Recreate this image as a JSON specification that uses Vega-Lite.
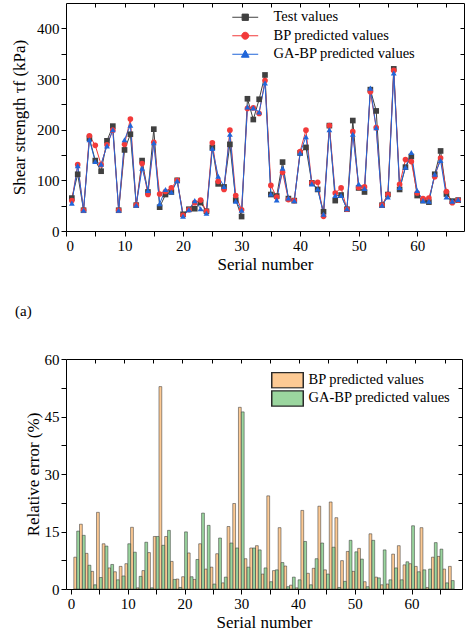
{
  "$schema": "https://vega.github.io/schema/vega-lite/v6.json",
  "padding": {"left": 10, "top": 2, "right": 2, "bottom": 0},
  "background": "white",
  "datasets": {
    "shear": [
      {"n":1,"s":"Test values","v":65},{"n":2,"s":"Test values","v":112},{"n":3,"s":"Test values","v":41},{"n":4,"s":"Test values","v":183},{"n":5,"s":"Test values","v":139},
      {"n":6,"s":"Test values","v":118},{"n":7,"s":"Test values","v":178},{"n":8,"s":"Test values","v":207},{"n":9,"s":"Test values","v":41},{"n":10,"s":"Test values","v":160},
      {"n":11,"s":"Test values","v":191},{"n":12,"s":"Test values","v":51},{"n":13,"s":"Test values","v":139},{"n":14,"s":"Test values","v":77},{"n":15,"s":"Test values","v":201},
      {"n":16,"s":"Test values","v":47},{"n":17,"s":"Test values","v":72},{"n":18,"s":"Test values","v":77},{"n":19,"s":"Test values","v":100},{"n":20,"s":"Test values","v":33},
      {"n":21,"s":"Test values","v":43},{"n":22,"s":"Test values","v":44},{"n":23,"s":"Test values","v":56},{"n":24,"s":"Test values","v":39},{"n":25,"s":"Test values","v":165},
      {"n":26,"s":"Test values","v":93},{"n":27,"s":"Test values","v":87},{"n":28,"s":"Test values","v":171},{"n":29,"s":"Test values","v":61},{"n":30,"s":"Test values","v":28.5},
      {"n":31,"s":"Test values","v":261},{"n":32,"s":"Test values","v":220},{"n":33,"s":"Test values","v":260},{"n":34,"s":"Test values","v":308},{"n":35,"s":"Test values","v":72},
      {"n":36,"s":"Test values","v":69},{"n":37,"s":"Test values","v":136},{"n":38,"s":"Test values","v":64},{"n":39,"s":"Test values","v":60},{"n":40,"s":"Test values","v":154},
      {"n":41,"s":"Test values","v":165},{"n":42,"s":"Test values","v":95},{"n":43,"s":"Test values","v":82},{"n":44,"s":"Test values","v":38},{"n":45,"s":"Test values","v":208},
      {"n":46,"s":"Test values","v":60},{"n":47,"s":"Test values","v":71},{"n":48,"s":"Test values","v":43},{"n":49,"s":"Test values","v":218},{"n":50,"s":"Test values","v":85},
      {"n":51,"s":"Test values","v":77},{"n":52,"s":"Test values","v":279},{"n":53,"s":"Test values","v":237},{"n":54,"s":"Test values","v":51},{"n":55,"s":"Test values","v":72},
      {"n":56,"s":"Test values","v":320},{"n":57,"s":"Test values","v":82},{"n":58,"s":"Test values","v":126},{"n":59,"s":"Test values","v":147},{"n":60,"s":"Test values","v":70},
      {"n":61,"s":"Test values","v":60},{"n":62,"s":"Test values","v":57},{"n":63,"s":"Test values","v":112},{"n":64,"s":"Test values","v":158},{"n":65,"s":"Test values","v":73},
      {"n":66,"s":"Test values","v":59},{"n":67,"s":"Test values","v":61},

      {"n":1,"s":"BP predicted values","v":60},{"n":2,"s":"BP predicted values","v":131},{"n":3,"s":"BP predicted values","v":41},{"n":4,"s":"BP predicted values","v":188},{"n":5,"s":"BP predicted values","v":169},
      {"n":6,"s":"BP predicted values","v":131},{"n":7,"s":"BP predicted values","v":170},{"n":8,"s":"BP predicted values","v":199},{"n":9,"s":"BP predicted values","v":41},{"n":10,"s":"BP predicted values","v":171},
      {"n":11,"s":"BP predicted values","v":221},{"n":12,"s":"BP predicted values","v":51},{"n":13,"s":"BP predicted values","v":133},{"n":14,"s":"BP predicted values","v":72},{"n":15,"s":"BP predicted values","v":175},
      {"n":16,"s":"BP predicted values","v":73},{"n":17,"s":"BP predicted values","v":78},{"n":18,"s":"BP predicted values","v":85},{"n":19,"s":"BP predicted values","v":100},{"n":20,"s":"BP predicted values","v":31},
      {"n":21,"s":"BP predicted values","v":42},{"n":22,"s":"BP predicted values","v":56},{"n":23,"s":"BP predicted values","v":61},{"n":24,"s":"BP predicted values","v":39},{"n":25,"s":"BP predicted values","v":174},
      {"n":26,"s":"BP predicted values","v":98},{"n":27,"s":"BP predicted values","v":82},{"n":28,"s":"BP predicted values","v":199},{"n":29,"s":"BP predicted values","v":70},{"n":30,"s":"BP predicted values","v":42},
      {"n":31,"s":"BP predicted values","v":242},{"n":32,"s":"BP predicted values","v":243},{"n":33,"s":"BP predicted values","v":232},{"n":34,"s":"BP predicted values","v":297},{"n":35,"s":"BP predicted values","v":90},
      {"n":36,"s":"BP predicted values","v":67},{"n":37,"s":"BP predicted values","v":116},{"n":38,"s":"BP predicted values","v":62},{"n":39,"s":"BP predicted values","v":60},{"n":40,"s":"BP predicted values","v":157},
      {"n":41,"s":"BP predicted values","v":199},{"n":42,"s":"BP predicted values","v":95},{"n":43,"s":"BP predicted values","v":96},{"n":44,"s":"BP predicted values","v":29},{"n":45,"s":"BP predicted values","v":208},
      {"n":46,"s":"BP predicted values","v":75},{"n":47,"s":"BP predicted values","v":85},{"n":48,"s":"BP predicted values","v":43},{"n":49,"s":"BP predicted values","v":196},{"n":50,"s":"BP predicted values","v":86},
      {"n":51,"s":"BP predicted values","v":87},{"n":52,"s":"BP predicted values","v":275},{"n":53,"s":"BP predicted values","v":204},{"n":54,"s":"BP predicted values","v":51},{"n":55,"s":"BP predicted values","v":72},
      {"n":56,"s":"BP predicted values","v":317},{"n":57,"s":"BP predicted values","v":92},{"n":58,"s":"BP predicted values","v":141},{"n":59,"s":"BP predicted values","v":137},{"n":60,"s":"BP predicted values","v":75},
      {"n":61,"s":"BP predicted values","v":64},{"n":62,"s":"BP predicted values","v":65},{"n":63,"s":"BP predicted values","v":107},{"n":64,"s":"BP predicted values","v":144},{"n":65,"s":"BP predicted values","v":78},
      {"n":66,"s":"BP predicted values","v":56},{"n":67,"s":"BP predicted values","v":61},

      {"n":1,"s":"GA-BP predicted values","v":55},{"n":2,"s":"GA-BP predicted values","v":129},{"n":3,"s":"GA-BP predicted values","v":41},{"n":4,"s":"GA-BP predicted values","v":180},{"n":5,"s":"GA-BP predicted values","v":137},
      {"n":6,"s":"GA-BP predicted values","v":132},{"n":7,"s":"GA-BP predicted values","v":168},{"n":8,"s":"GA-BP predicted values","v":200},{"n":9,"s":"GA-BP predicted values","v":41},{"n":10,"s":"GA-BP predicted values","v":180},
      {"n":11,"s":"GA-BP predicted values","v":209},{"n":12,"s":"GA-BP predicted values","v":51},{"n":13,"s":"GA-BP predicted values","v":124},{"n":14,"s":"GA-BP predicted values","v":80},{"n":15,"s":"GA-BP predicted values","v":174},
      {"n":16,"s":"GA-BP predicted values","v":54},{"n":17,"s":"GA-BP predicted values","v":82},{"n":18,"s":"GA-BP predicted values","v":77},{"n":19,"s":"GA-BP predicted values","v":99},{"n":20,"s":"GA-BP predicted values","v":29},
      {"n":21,"s":"GA-BP predicted values","v":42},{"n":22,"s":"GA-BP predicted values","v":60},{"n":23,"s":"GA-BP predicted values","v":44},{"n":24,"s":"GA-BP predicted values","v":35},{"n":25,"s":"GA-BP predicted values","v":163},
      {"n":26,"s":"GA-BP predicted values","v":108},{"n":27,"s":"GA-BP predicted values","v":88},{"n":28,"s":"GA-BP predicted values","v":191},{"n":29,"s":"GA-BP predicted values","v":59},{"n":30,"s":"GA-BP predicted values","v":41},
      {"n":31,"s":"GA-BP predicted values","v":245},{"n":32,"s":"GA-BP predicted values","v":243},{"n":33,"s":"GA-BP predicted values","v":235},{"n":34,"s":"GA-BP predicted values","v":292},{"n":35,"s":"GA-BP predicted values","v":73},
      {"n":36,"s":"GA-BP predicted values","v":61},{"n":37,"s":"GA-BP predicted values","v":124},{"n":38,"s":"GA-BP predicted values","v":65},{"n":39,"s":"GA-BP predicted values","v":60},{"n":40,"s":"GA-BP predicted values","v":154},
      {"n":41,"s":"GA-BP predicted values","v":186},{"n":42,"s":"GA-BP predicted values","v":93},{"n":43,"s":"GA-BP predicted values","v":83},{"n":44,"s":"GA-BP predicted values","v":33},{"n":45,"s":"GA-BP predicted values","v":200},
      {"n":46,"s":"GA-BP predicted values","v":70},{"n":47,"s":"GA-BP predicted values","v":70},{"n":48,"s":"GA-BP predicted values","v":44},{"n":49,"s":"GA-BP predicted values","v":191},{"n":50,"s":"GA-BP predicted values","v":93},
      {"n":51,"s":"GA-BP predicted values","v":84},{"n":52,"s":"GA-BP predicted values","v":282},{"n":53,"s":"GA-BP predicted values","v":204},{"n":54,"s":"GA-BP predicted values","v":51},{"n":55,"s":"GA-BP predicted values","v":67},
      {"n":56,"s":"GA-BP predicted values","v":312},{"n":57,"s":"GA-BP predicted values","v":86},{"n":58,"s":"GA-BP predicted values","v":126},{"n":59,"s":"GA-BP predicted values","v":155},{"n":60,"s":"GA-BP predicted values","v":80},
      {"n":61,"s":"GA-BP predicted values","v":60},{"n":62,"s":"GA-BP predicted values","v":59},{"n":63,"s":"GA-BP predicted values","v":112},{"n":64,"s":"GA-BP predicted values","v":139},{"n":65,"s":"GA-BP predicted values","v":67},
      {"n":66,"s":"GA-BP predicted values","v":59},{"n":67,"s":"GA-BP predicted values","v":62}
    ],
    "errors": [
      {"n":1,"m":"BP predicted values","e":8.3},{"n":2,"m":"BP predicted values","e":16.9},{"n":3,"m":"BP predicted values","e":9.3},{"n":4,"m":"BP predicted values","e":4.6},{"n":5,"m":"BP predicted values","e":20.0},
      {"n":6,"m":"BP predicted values","e":11.8},{"n":7,"m":"BP predicted values","e":5.5},{"n":8,"m":"BP predicted values","e":4.5},{"n":9,"m":"BP predicted values","e":5.9},{"n":10,"m":"BP predicted values","e":6.6},
      {"n":11,"m":"BP predicted values","e":16.1},{"n":12,"m":"BP predicted values","e":0.3},{"n":13,"m":"BP predicted values","e":4.8},{"n":14,"m":"BP predicted values","e":9.5},{"n":15,"m":"BP predicted values","e":13.7},
      {"n":16,"m":"BP predicted values","e":52.8},{"n":17,"m":"BP predicted values","e":13.7},{"n":18,"m":"BP predicted values","e":7.2},{"n":19,"m":"BP predicted values","e":2.6},{"n":20,"m":"BP predicted values","e":3.2},
      {"n":21,"m":"BP predicted values","e":9.4},{"n":22,"m":"BP predicted values","e":2.5},{"n":23,"m":"BP predicted values","e":11.8},{"n":24,"m":"BP predicted values","e":5.2},{"n":25,"m":"BP predicted values","e":5.7},
      {"n":26,"m":"BP predicted values","e":9.2},{"n":27,"m":"BP predicted values","e":1.6},{"n":28,"m":"BP predicted values","e":16.3},{"n":29,"m":"BP predicted values","e":22.3},{"n":30,"m":"BP predicted values","e":47.4},
      {"n":31,"m":"BP predicted values","e":7.9},{"n":32,"m":"BP predicted values","e":10.7},{"n":33,"m":"BP predicted values","e":11.3},{"n":34,"m":"BP predicted values","e":3.9},{"n":35,"m":"BP predicted values","e":24.3},
      {"n":36,"m":"BP predicted values","e":4.8},{"n":37,"m":"BP predicted values","e":16.0},{"n":38,"m":"BP predicted values","e":6.0},{"n":39,"m":"BP predicted values","e":1.0},{"n":40,"m":"BP predicted values","e":0.3},
      {"n":41,"m":"BP predicted values","e":20.5},{"n":42,"m":"BP predicted values","e":4.1},{"n":43,"m":"BP predicted values","e":5.4},{"n":44,"m":"BP predicted values","e":21.6},{"n":45,"m":"BP predicted values","e":5.0},
      {"n":46,"m":"BP predicted values","e":22.7},{"n":47,"m":"BP predicted values","e":18.6},{"n":48,"m":"BP predicted values","e":7.4},{"n":49,"m":"BP predicted values","e":9.8},{"n":50,"m":"BP predicted values","e":4.6},
      {"n":51,"m":"BP predicted values","e":10.6},{"n":52,"m":"BP predicted values","e":1.9},{"n":53,"m":"BP predicted values","e":14.4},{"n":54,"m":"BP predicted values","e":3.1},{"n":55,"m":"BP predicted values","e":1.1},
      {"n":56,"m":"BP predicted values","e":1.3},{"n":57,"m":"BP predicted values","e":9.1},{"n":58,"m":"BP predicted values","e":11.3},{"n":59,"m":"BP predicted values","e":6.3},{"n":60,"m":"BP predicted values","e":6.6},
      {"n":61,"m":"BP predicted values","e":5.9},{"n":62,"m":"BP predicted values","e":16.0},{"n":63,"m":"BP predicted values","e":0.4},{"n":64,"m":"BP predicted values","e":8.3},{"n":65,"m":"BP predicted values","e":8.5},
      {"n":66,"m":"BP predicted values","e":5.2},{"n":67,"m":"BP predicted values","e":5.9},

      {"n":1,"m":"GA-BP predicted values","e":15.1},{"n":2,"m":"GA-BP predicted values","e":14.0},{"n":3,"m":"GA-BP predicted values","e":6.2},{"n":4,"m":"GA-BP predicted values","e":1.1},{"n":5,"m":"GA-BP predicted values","e":3.0},
      {"n":6,"m":"GA-BP predicted values","e":11.2},{"n":7,"m":"GA-BP predicted values","e":6.4},{"n":8,"m":"GA-BP predicted values","e":2.4},{"n":9,"m":"GA-BP predicted values","e":3.4},{"n":10,"m":"GA-BP predicted values","e":11.8},
      {"n":11,"m":"GA-BP predicted values","e":9.6},{"n":12,"m":"GA-BP predicted values","e":3.3},{"n":13,"m":"GA-BP predicted values","e":12.2},{"n":14,"m":"GA-BP predicted values","e":0.3},{"n":15,"m":"GA-BP predicted values","e":13.7},
      {"n":16,"m":"GA-BP predicted values","e":11.4},{"n":17,"m":"GA-BP predicted values","e":15.3},{"n":18,"m":"GA-BP predicted values","e":2.5},{"n":19,"m":"GA-BP predicted values","e":0.4},{"n":20,"m":"GA-BP predicted values","e":14.9},
      {"n":21,"m":"GA-BP predicted values","e":3.2},{"n":22,"m":"GA-BP predicted values","e":7.7},{"n":23,"m":"GA-BP predicted values","e":19.8},{"n":24,"m":"GA-BP predicted values","e":16.6},{"n":25,"m":"GA-BP predicted values","e":1.3},
      {"n":26,"m":"GA-BP predicted values","e":13.3},{"n":27,"m":"GA-BP predicted values","e":3.1},{"n":28,"m":"GA-BP predicted values","e":12.0},{"n":29,"m":"GA-BP predicted values","e":10.7},{"n":30,"m":"GA-BP predicted values","e":46.2},
      {"n":31,"m":"GA-BP predicted values","e":5.7},{"n":32,"m":"GA-BP predicted values","e":10.7},{"n":33,"m":"GA-BP predicted values","e":10.2},{"n":34,"m":"GA-BP predicted values","e":5.5},{"n":35,"m":"GA-BP predicted values","e":1.9},
      {"n":36,"m":"GA-BP predicted values","e":5.0},{"n":37,"m":"GA-BP predicted values","e":6.9},{"n":38,"m":"GA-BP predicted values","e":0.6},{"n":39,"m":"GA-BP predicted values","e":3.1},{"n":40,"m":"GA-BP predicted values","e":2.4},
      {"n":41,"m":"GA-BP predicted values","e":12.4},{"n":42,"m":"GA-BP predicted values","e":1.1},{"n":43,"m":"GA-BP predicted values","e":7.9},{"n":44,"m":"GA-BP predicted values","e":12.0},{"n":45,"m":"GA-BP predicted values","e":3.9},
      {"n":46,"m":"GA-BP predicted values","e":10.9},{"n":47,"m":"GA-BP predicted values","e":0.4},{"n":48,"m":"GA-BP predicted values","e":2.0},{"n":49,"m":"GA-BP predicted values","e":12.7},{"n":50,"m":"GA-BP predicted values","e":9.7},
      {"n":51,"m":"GA-BP predicted values","e":7.8},{"n":52,"m":"GA-BP predicted values","e":0.6},{"n":53,"m":"GA-BP predicted values","e":12.7},{"n":54,"m":"GA-BP predicted values","e":2.9},{"n":55,"m":"GA-BP predicted values","e":10.2},
      {"n":56,"m":"GA-BP predicted values","e":2.4},{"n":57,"m":"GA-BP predicted values","e":5.5},{"n":58,"m":"GA-BP predicted values","e":2.4},{"n":59,"m":"GA-BP predicted values","e":7.1},{"n":60,"m":"GA-BP predicted values","e":16.5},
      {"n":61,"m":"GA-BP predicted values","e":4.5},{"n":62,"m":"GA-BP predicted values","e":5.0},{"n":63,"m":"GA-BP predicted values","e":5.2},{"n":64,"m":"GA-BP predicted values","e":12.1},{"n":65,"m":"GA-BP predicted values","e":10.4},
      {"n":66,"m":"GA-BP predicted values","e":1.6},{"n":67,"m":"GA-BP predicted values","e":2.2}
    ]
  },
  "spacing": 30,
  "resolve": {
    "scale": {"color": "independent", "fill": "independent"},
    "legend": {"color": "independent", "fill": "independent"}
  },
  "vconcat": [
    {
      "width": 398,
      "height": 228,
      "data": {"name": "shear"},
      "layer": [
        {
          "mark": {"type": "line", "strokeWidth": 1},
          "encoding": {
            "x": {"field": "n", "type": "quantitative", "scale": {"domain": [0, 68], "nice": false},
                  "axis": {"values": [0,5,10,15,20,25,30,35,40,45,50,55,60,65], "labelExpr": "datum.value % 10 === 0 ? datum.label : ''", "title": "Serial number", "titlePadding": 3}},
            "y": {"field": "v", "type": "quantitative", "scale": {"domain": [0, 450], "nice": false},
                  "axis": {"values": [0,50,100,150,200,250,300,350,400], "labelExpr": "datum.value % 100 === 0 ? datum.label : ''", "title": "Shear strength τf (kPa)", "titlePadding": 8}},
            "color": {"field": "s", "type": "nominal",
                      "scale": {"domain": ["Test values", "BP predicted values", "GA-BP predicted values"], "range": ["#404040", "#f23a3a", "#2166d9"]},
                      "legend": {
                        "title": null, "orient": "none", "legendX": 172, "legendY": 7, "padding": 0,
                        "symbolSize": 49, "labelOffset": 21, "rowPadding": 3.5,
                        "labelFont": "Liberation Serif", "labelFontSize": 14.5, "labelColor": "#000",
                        "symbolStrokeWidth": 1,
                        "encode": {"symbols": {"update": {
                          "shape": {"signal": "datum.value === 'Test values' ? 'M-3.7,0H3.7M-0.9,-0.9H0.9V0.9H-0.9Z' : datum.value === 'BP predicted values' ? 'M-3.7,0H3.7M-1,0A1,1 0 1,0 1,0A1,1 0 1,0 -1,0Z' : 'M-3.7,0H3.7M0,-1.15L1.1,0.85H-1.1Z'"},
                          "stroke": {"signal": "datum.value === 'Test values' ? '#404040' : datum.value === 'BP predicted values' ? '#f23a3a' : '#2166d9'"},
                          "fill": {"signal": "datum.value === 'Test values' ? '#404040' : datum.value === 'BP predicted values' ? '#f23a3a' : '#2166d9'"},
                          "strokeWidth": {"value": 1},
                          "opacity": {"value": 1}
                        }}}
                      }}
          }
        },
        {
          "transform": [{"filter": "datum.s === 'Test values'"}],
          "mark": {"type": "point", "shape": "square", "filled": true, "size": 32, "opacity": 1},
          "encoding": {
            "x": {"field": "n", "type": "quantitative", "scale": {"domain": [0, 68], "nice": false}, "axis": null},
            "y": {"field": "v", "type": "quantitative", "scale": {"domain": [0, 450], "nice": false}, "axis": null},
            "color": {"field": "s", "type": "nominal"}
          }
        },
        {
          "transform": [{"filter": "datum.s === 'BP predicted values'"}],
          "mark": {"type": "point", "shape": "circle", "filled": true, "size": 32, "opacity": 1},
          "encoding": {
            "x": {"field": "n", "type": "quantitative", "scale": {"domain": [0, 68], "nice": false}, "axis": null},
            "y": {"field": "v", "type": "quantitative", "scale": {"domain": [0, 450], "nice": false}, "axis": null},
            "color": {"field": "s", "type": "nominal"}
          }
        },
        {
          "transform": [{"filter": "datum.s === 'GA-BP predicted values'"}],
          "mark": {"type": "point", "shape": "triangle-up", "filled": true, "size": 34, "opacity": 1},
          "encoding": {
            "x": {"field": "n", "type": "quantitative", "scale": {"domain": [0, 68], "nice": false}, "axis": null},
            "y": {"field": "v", "type": "quantitative", "scale": {"domain": [0, 450], "nice": false}, "axis": null},
            "color": {"field": "s", "type": "nominal"}
          }
        },
        {
          "mark": {"type": "point", "opacity": 0},
          "encoding": {
            "x": {"field": "n", "type": "quantitative", "scale": {"domain": [0, 68], "nice": false},
                  "axis": {"orient": "top", "values": [5,10,15,20,25,30,35,40,45,50,55,60,65], "labels": false, "title": null, "tickSize": -4}},
            "y": {"field": "v", "type": "quantitative", "scale": {"domain": [0, 450], "nice": false},
                  "axis": {"orient": "right", "values": [50,100,150,200,250,300,350,400], "labels": false, "title": null, "tickSize": -4}}
          }
        }
      ],
      "resolve": {"scale": {"x": "independent", "y": "independent"}}
    },
    {
      "width": 396,
      "height": 230,
      "data": {"name": "errors"},
      "title": {"text": "(a)", "anchor": "start", "frame": "group", "dx": -51, "offset": 33, "fontSize": 15, "font": "Liberation Serif", "fontWeight": "normal", "color": "#000"},
      "layer": [
        {
          "transform": [{"filter": "datum.m === 'BP predicted values'"}],
          "mark": {"type": "bar", "width": 2.8, "xOffset": -1.45, "stroke": "#2a2a2a", "strokeWidth": 0.5, "opacity": 1},
          "encoding": {
            "x": {"field": "n", "type": "quantitative", "scale": {"domain": [0, 68], "nice": false},
                  "axis": {"values": [0,5,10,15,20,25,30,35,40,45,50,55,60,65], "labelExpr": "datum.value % 10 === 0 ? datum.label : ''", "title": "Serial number", "titlePadding": 3}},
            "y": {"field": "e", "type": "quantitative", "scale": {"domain": [0, 60], "nice": false},
                  "axis": {"values": [0,7.5,15,22.5,30,37.5,45,52.5,60], "labelExpr": "datum.value % 15 === 0 ? datum.label : ''", "title": "Relative error (%)", "titlePadding": 2}},
            "fill": {"field": "m", "type": "nominal",
                     "scale": {"domain": ["BP predicted values", "GA-BP predicted values"], "range": ["#fdca94", "#9bd69f"]},
                     "legend": {
                       "title": null, "orient": "none", "legendX": 203, "legendY": 13, "padding": 0,
                       "symbolType": "M-0.9,-1.55H5.4V1.55H-0.9Z", "symbolSize": 100, "labelOffset": 25,
                       "clipHeight": 16.5, "rowPadding": 1.2,
                       "labelFont": "Liberation Serif", "labelFontSize": 14.5, "labelColor": "#000",
                       "encode": {"symbols": {"update": {"stroke": {"value": "#707070"}, "strokeWidth": {"value": 1}}}}
                     }}
          }
        },
        {
          "transform": [{"filter": "datum.m === 'GA-BP predicted values'"}],
          "mark": {"type": "bar", "width": 2.8, "xOffset": 1.45, "stroke": "#2a2a2a", "strokeWidth": 0.5, "opacity": 1},
          "encoding": {
            "x": {"field": "n", "type": "quantitative", "scale": {"domain": [0, 68], "nice": false}, "axis": null},
            "y": {"field": "e", "type": "quantitative", "scale": {"domain": [0, 60], "nice": false}, "axis": null},
            "fill": {"field": "m", "type": "nominal",
                     "scale": {"domain": ["BP predicted values", "GA-BP predicted values"], "range": ["#fdca94", "#9bd69f"]}}
          }
        },
        {
          "mark": {"type": "point", "opacity": 0},
          "encoding": {
            "x": {"field": "n", "type": "quantitative", "scale": {"domain": [0, 68], "nice": false},
                  "axis": {"orient": "top", "values": [5,10,15,20,25,30,35,40,45,50,55,60,65], "labels": false, "title": null, "tickSize": -4}},
            "y": {"field": "e", "type": "quantitative", "scale": {"domain": [0, 60], "nice": false},
                  "axis": {"orient": "right", "values": [7.5,15,22.5,30,37.5,45,52.5], "labels": false, "title": null, "tickSize": -4}}
          }
        }
      ],
      "resolve": {"scale": {"x": "independent", "y": "independent"}}
    }
  ],
  "config": {
    "font": "Liberation Serif",
    "view": {"stroke": "#000", "strokeWidth": 1},
    "axis": {
      "grid": false, "domain": false,
      "tickColor": "#000", "tickSize": 5, "tickWidth": 1,
      "labelFont": "Liberation Serif", "labelFontSize": 15, "labelColor": "#000", "labelPadding": 2,
      "titleFont": "Liberation Serif", "titleFontSize": 17, "titleFontWeight": "normal", "titleColor": "#000"
    }
  }
}
